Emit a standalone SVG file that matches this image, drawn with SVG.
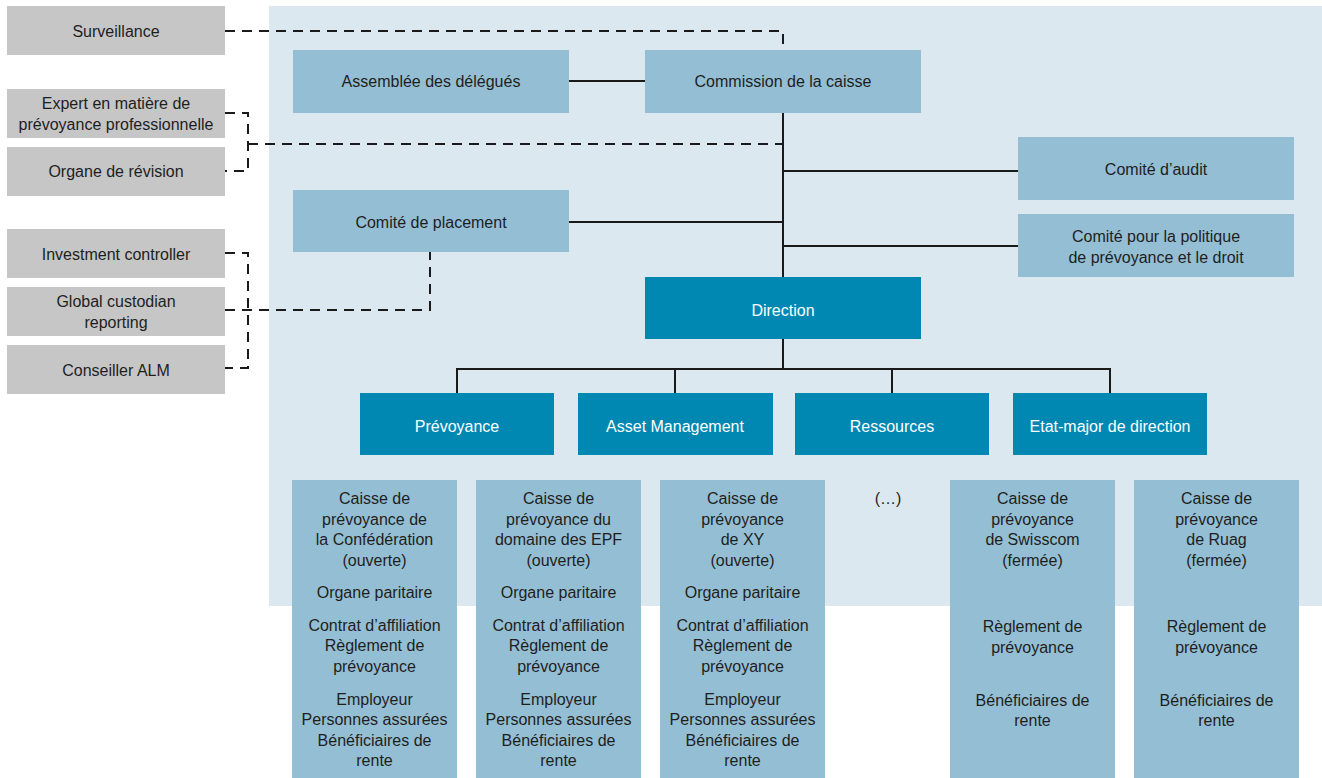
<svg xmlns="http://www.w3.org/2000/svg" width="1322" height="778" viewBox="0 0 1322 778">
<style>
text{font-family:"Liberation Sans",Arial,sans-serif;font-size:16px;fill:#1e1e1e;text-anchor:middle}
.g{fill:#c6c6c6}
.l{fill:#94bed3}
.d{fill:#0088b3}
.w{fill:#ffffff}
.s{stroke:#1a1a1a;stroke-width:2;fill:none}
.ds{stroke:#1a1a1a;stroke-width:2;fill:none;stroke-dasharray:10 7}
</style>
<rect x="269" y="6" width="1053" height="600" fill="#dce8ef"/>
<g id="connectors">
<path class="ds" d="M225 31H783V50"/>
<path class="ds" d="M225 113H248V171H225M248 144H783"/>
<path class="ds" d="M225 253H248V368H225M225 310H430V252"/>
<path class="s" d="M569 81H645"/>
<path class="s" d="M783 113V277M783 171H1018M783 246H1018M569 222H783"/>
<path class="s" d="M783 339V369M457 393V369H1110V393M675 369V393M892 369V393"/>
</g>
<g id="surveillance"><rect class="g" x="7" y="6" width="218" height="49"/><text x="116" y="37">Surveillance</text></g>
<g id="expert"><rect class="g" x="7" y="89" width="218" height="49"/><text x="116" y="109">Expert en matière de</text><text x="116" y="130">prévoyance professionnelle</text></g>
<g id="revision"><rect class="g" x="7" y="147" width="218" height="49"/><text x="116" y="177">Organe de révision</text></g>
<g id="investment"><rect class="g" x="7" y="229" width="218" height="49"/><text x="116" y="260">Investment controller</text></g>
<g id="custodian"><rect class="g" x="7" y="287" width="218" height="49"/><text x="116" y="307">Global custodian</text><text x="116" y="328">reporting</text></g>
<g id="alm"><rect class="g" x="7" y="345" width="218" height="49"/><text x="116" y="376">Conseiller ALM</text></g>
<g id="assemblee"><rect class="l" x="293" y="50" width="276" height="63"/><text x="431" y="87">Assemblée des délégués</text></g>
<g id="commission"><rect class="l" x="645" y="50" width="276" height="63"/><text x="783" y="87">Commission de la caisse</text></g>
<g id="audit"><rect class="l" x="1018" y="137" width="276" height="63"/><text x="1156" y="175">Comité d’audit</text></g>
<g id="politique"><rect class="l" x="1018" y="214" width="276" height="63"/><text x="1156" y="242">Comité pour la politique</text><text x="1156" y="263">de prévoyance et le droit</text></g>
<g id="placement"><rect class="l" x="293" y="190" width="276" height="62"/><text x="431" y="228">Comité de placement</text></g>
<g id="direction"><rect class="d" x="645" y="277" width="276" height="62"/><text class="w" x="783" y="316">Direction</text></g>
<g id="prevoyance"><rect class="d" x="360" y="393" width="194" height="62"/><text class="w" x="457" y="432">Prévoyance</text></g>
<g id="asset"><rect class="d" x="578" y="393" width="195" height="62"/><text class="w" x="675" y="432">Asset Management</text></g>
<g id="ressources"><rect class="d" x="795" y="393" width="194" height="62"/><text class="w" x="892" y="432">Ressources</text></g>
<g id="etatmajor"><rect class="d" x="1013" y="393" width="194" height="62"/><text class="w" x="1110" y="432">Etat-major de direction</text></g>
<g id="cp-confederation"><rect class="l" x="292" y="480" width="165" height="298"/>
<text x="374.5" y="504">Caisse de</text><text x="374.5" y="525">prévoyance de</text><text x="374.5" y="545">la Confédération</text><text x="374.5" y="566">(ouverte)</text>
<text x="374.5" y="598">Organe paritaire</text>
<text x="374.5" y="631">Contrat d’affiliation</text><text x="374.5" y="651">Règlement de</text><text x="374.5" y="672">prévoyance</text>
<text x="374.5" y="705">Employeur</text><text x="374.5" y="725">Personnes assurées</text><text x="374.5" y="746">Bénéficiaires de</text><text x="374.5" y="766">rente</text></g>
<g id="cp-epf"><rect class="l" x="476" y="480" width="165" height="298"/>
<text x="558.5" y="504">Caisse de</text><text x="558.5" y="525">prévoyance du</text><text x="558.5" y="545">domaine des EPF</text><text x="558.5" y="566">(ouverte)</text>
<text x="558.5" y="598">Organe paritaire</text>
<text x="558.5" y="631">Contrat d’affiliation</text><text x="558.5" y="651">Règlement de</text><text x="558.5" y="672">prévoyance</text>
<text x="558.5" y="705">Employeur</text><text x="558.5" y="725">Personnes assurées</text><text x="558.5" y="746">Bénéficiaires de</text><text x="558.5" y="766">rente</text></g>
<g id="cp-xy"><rect class="l" x="660" y="480" width="165" height="298"/>
<text x="742.5" y="504">Caisse de</text><text x="742.5" y="525">prévoyance</text><text x="742.5" y="545">de XY</text><text x="742.5" y="566">(ouverte)</text>
<text x="742.5" y="598">Organe paritaire</text>
<text x="742.5" y="631">Contrat d’affiliation</text><text x="742.5" y="651">Règlement de</text><text x="742.5" y="672">prévoyance</text>
<text x="742.5" y="705">Employeur</text><text x="742.5" y="725">Personnes assurées</text><text x="742.5" y="746">Bénéficiaires de</text><text x="742.5" y="766">rente</text></g>
<g id="etc"><text x="888" y="504">(…)</text></g>
<g id="cp-swisscom"><rect class="l" x="950" y="480" width="165" height="298"/>
<text x="1032.5" y="504">Caisse de</text><text x="1032.5" y="525">prévoyance</text><text x="1032.5" y="545">de Swisscom</text><text x="1032.5" y="566">(fermée)</text>
<text x="1032.5" y="632">Règlement de</text><text x="1032.5" y="653">prévoyance</text>
<text x="1032.5" y="706">Bénéficiaires de</text><text x="1032.5" y="726">rente</text></g>
<g id="cp-ruag"><rect class="l" x="1134" y="480" width="165" height="298"/>
<text x="1216.5" y="504">Caisse de</text><text x="1216.5" y="525">prévoyance</text><text x="1216.5" y="545">de Ruag</text><text x="1216.5" y="566">(fermée)</text>
<text x="1216.5" y="632">Règlement de</text><text x="1216.5" y="653">prévoyance</text>
<text x="1216.5" y="706">Bénéficiaires de</text><text x="1216.5" y="726">rente</text></g>
</svg>
